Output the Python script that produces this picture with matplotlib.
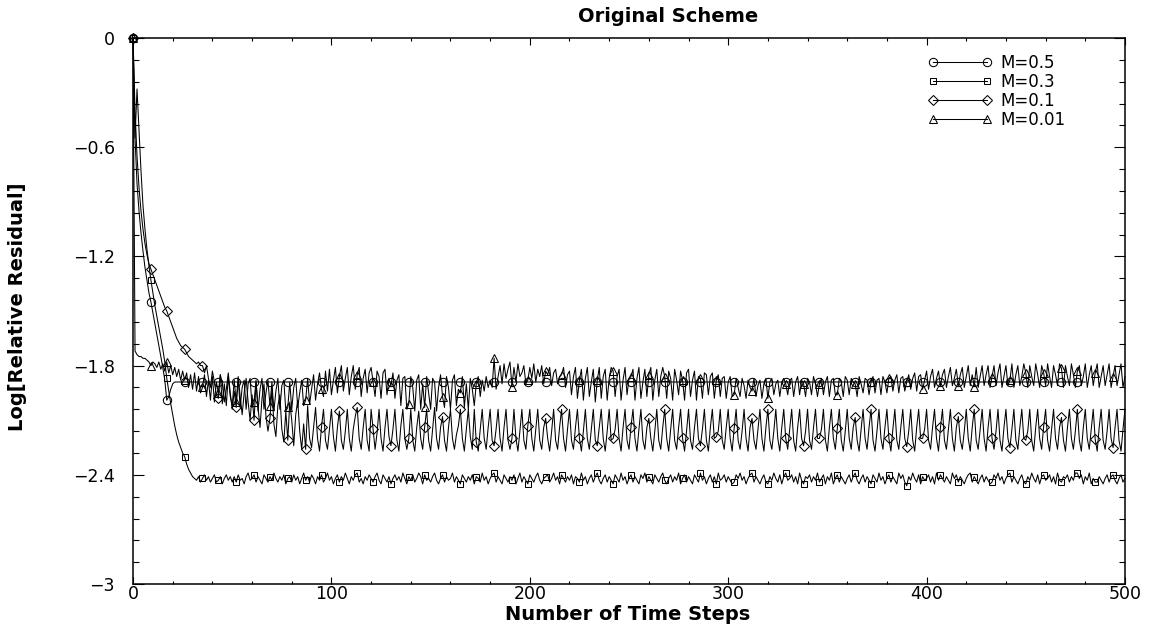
import numpy as np
import matplotlib
matplotlib.use("Agg")
import matplotlib.pyplot as plt
from matplotlib.lines import Line2D
from matplotlib.ticker import MultipleLocator

# ── Data: log10 relative residual per time step (step 0..500) ────────────────
m05 = [
    0.00, -0.55, -0.80, -0.95, -1.07, -1.17, -1.26, -1.33, -1.40, -1.45,
    -1.51, -1.57, -1.63, -1.69, -1.75, -1.81, -1.88, -1.99, -1.97, -1.93,
    -1.90,
    -1.89, -1.89, -1.89, -1.89, -1.89, -1.89, -1.89, -1.89, -1.89, -1.89, -1.89, -1.89, -1.89, -1.89, -1.89, -1.89, -1.89, -1.89, -1.89, -1.89,
    -1.89, -1.89, -1.89, -1.89, -1.89, -1.89, -1.89, -1.89, -1.89, -1.89, -1.89, -1.89, -1.89, -1.89, -1.89, -1.89, -1.89, -1.89, -1.89, -1.89,
    -1.89, -1.89, -1.89, -1.89, -1.89, -1.89, -1.89, -1.89, -1.89, -1.89, -1.89, -1.89, -1.89, -1.89, -1.89, -1.89, -1.89, -1.89, -1.89, -1.89,
    -1.89, -1.89, -1.89, -1.89, -1.89, -1.89, -1.89, -1.89, -1.89, -1.89, -1.89, -1.89, -1.89, -1.89, -1.89, -1.89, -1.89, -1.89, -1.89, -1.89,
    -1.89, -1.89, -1.89, -1.89, -1.89, -1.89, -1.89, -1.89, -1.89, -1.89, -1.89, -1.89, -1.89, -1.89, -1.89, -1.89, -1.89, -1.89, -1.89, -1.89,
    -1.89, -1.89, -1.89, -1.89, -1.89, -1.89, -1.89, -1.89, -1.89, -1.89, -1.89, -1.89, -1.89, -1.89, -1.89, -1.89, -1.89, -1.89, -1.89, -1.89,
    -1.89, -1.89, -1.89, -1.89, -1.89, -1.89, -1.89, -1.89, -1.89, -1.89, -1.89, -1.89, -1.89, -1.89, -1.89, -1.89, -1.89, -1.89, -1.89, -1.89,
    -1.89, -1.89, -1.89, -1.89, -1.89, -1.89, -1.89, -1.89, -1.89, -1.89, -1.89, -1.89, -1.89, -1.89, -1.89, -1.89, -1.89, -1.89, -1.89, -1.89,
    -1.89, -1.89, -1.89, -1.89, -1.89, -1.89, -1.89, -1.89, -1.89, -1.89, -1.89, -1.89, -1.89, -1.89, -1.89, -1.89, -1.89, -1.89, -1.89, -1.89,
    -1.89, -1.89, -1.89, -1.89, -1.89, -1.89, -1.89, -1.89, -1.89, -1.89, -1.89, -1.89, -1.89, -1.89, -1.89, -1.89, -1.89, -1.89, -1.89, -1.89,
    -1.89, -1.89, -1.89, -1.89, -1.89, -1.89, -1.89, -1.89, -1.89, -1.89, -1.89, -1.89, -1.89, -1.89, -1.89, -1.89, -1.89, -1.89, -1.89, -1.89,
    -1.89, -1.89, -1.89, -1.89, -1.89, -1.89, -1.89, -1.89, -1.89, -1.89, -1.89, -1.89, -1.89, -1.89, -1.89, -1.89, -1.89, -1.89, -1.89, -1.89,
    -1.89, -1.89, -1.89, -1.89, -1.89, -1.89, -1.89, -1.89, -1.89, -1.89, -1.89, -1.89, -1.89, -1.89, -1.89, -1.89, -1.89, -1.89, -1.89, -1.89,
    -1.89, -1.89, -1.89, -1.89, -1.89, -1.89, -1.89, -1.89, -1.89, -1.89, -1.89, -1.89, -1.89, -1.89, -1.89, -1.89, -1.89, -1.89, -1.89, -1.89,
    -1.89, -1.89, -1.89, -1.89, -1.89, -1.89, -1.89, -1.89, -1.89, -1.89, -1.89, -1.89, -1.89, -1.89, -1.89, -1.89, -1.89, -1.89, -1.89, -1.89,
    -1.89, -1.89, -1.89, -1.89, -1.89, -1.89, -1.89, -1.89, -1.89, -1.89, -1.89, -1.89, -1.89, -1.89, -1.89, -1.89, -1.89, -1.89, -1.89, -1.89,
    -1.89, -1.89, -1.89, -1.89, -1.89, -1.89, -1.89, -1.89, -1.89, -1.89, -1.89, -1.89, -1.89, -1.89, -1.89, -1.89, -1.89, -1.89, -1.89, -1.89,
    -1.89, -1.89, -1.89, -1.89, -1.89, -1.89, -1.89, -1.89, -1.89, -1.89, -1.89, -1.89, -1.89, -1.89, -1.89, -1.89, -1.89, -1.89, -1.89, -1.89,
    -1.89, -1.89, -1.89, -1.89, -1.89, -1.89, -1.89, -1.89, -1.89, -1.89, -1.89, -1.89, -1.89, -1.89, -1.89, -1.89, -1.89, -1.89, -1.89, -1.89,
    -1.89, -1.89, -1.89, -1.89, -1.89, -1.89, -1.89, -1.89, -1.89, -1.89, -1.89, -1.89, -1.89, -1.89, -1.89, -1.89, -1.89, -1.89, -1.89, -1.89,
    -1.89, -1.89, -1.89, -1.89, -1.89, -1.89, -1.89, -1.89, -1.89, -1.89, -1.89, -1.89, -1.89, -1.89, -1.89, -1.89, -1.89, -1.89, -1.89, -1.89,
    -1.89, -1.89, -1.89, -1.89, -1.89, -1.89, -1.89, -1.89, -1.89, -1.89, -1.89, -1.89, -1.89, -1.89, -1.89, -1.89, -1.89, -1.89, -1.89, -1.89,
    -1.89, -1.89, -1.89, -1.89, -1.89, -1.89, -1.89, -1.89, -1.89, -1.89, -1.89, -1.89, -1.89, -1.89, -1.89, -1.89, -1.89, -1.89, -1.89, -1.89,
]

m03 = [
    0.00, -0.55, -0.28, -0.50, -0.73, -0.92, -1.05, -1.16, -1.25, -1.33,
    -1.40, -1.47, -1.53, -1.59, -1.65, -1.71, -1.78, -1.87, -1.94, -2.01,
    -2.07, -2.13, -2.18, -2.22, -2.25, -2.28, -2.30, -2.34, -2.37, -2.39,
    -2.41, -2.42, -2.43, -2.41, -2.44, -2.42, -2.40, -2.43, -2.41, -2.44,
    -2.42, -2.40, -2.44, -2.43, -2.41, -2.45, -2.42, -2.40, -2.43, -2.41,
    -2.44, -2.41, -2.44, -2.40, -2.43, -2.42, -2.45, -2.41, -2.39, -2.43,
    -2.42, -2.40, -2.44, -2.41, -2.43, -2.45, -2.40, -2.42, -2.44, -2.41,
    -2.43, -2.39, -2.42, -2.44, -2.41, -2.43, -2.40, -2.45, -2.42, -2.41,
    -2.44, -2.40, -2.43, -2.41, -2.45, -2.42, -2.39, -2.43, -2.41, -2.44,
    -2.40, -2.42, -2.45, -2.41, -2.43, -2.40, -2.44, -2.42, -2.39, -2.43,
    -2.41, -2.45, -2.42, -2.40, -2.44, -2.41, -2.43, -2.39, -2.42, -2.45,
    -2.41, -2.43, -2.40, -2.39, -2.44, -2.42, -2.45, -2.41, -2.43, -2.40,
    -2.42, -2.44, -2.41, -2.39, -2.43, -2.45, -2.40, -2.42, -2.44, -2.41,
    -2.45, -2.42, -2.40, -2.43, -2.41, -2.44, -2.39, -2.42, -2.45, -2.41,
    -2.43, -2.40, -2.44, -2.42, -2.39, -2.41, -2.45, -2.40, -2.43, -2.42,
    -2.44, -2.41, -2.39, -2.43, -2.45, -2.42, -2.40, -2.44, -2.41, -2.43,
    -2.42, -2.39, -2.44, -2.41, -2.43, -2.45, -2.40, -2.42, -2.44, -2.41,
    -2.43, -2.40, -2.45, -2.41, -2.42, -2.44, -2.39, -2.43, -2.41, -2.45,
    -2.42, -2.40, -2.39, -2.44, -2.41, -2.43, -2.45, -2.40, -2.42, -2.44,
    -2.41, -2.43, -2.40, -2.45, -2.42, -2.39, -2.44, -2.41, -2.43, -2.45,
    -2.40, -2.42, -2.44, -2.41, -2.39, -2.43, -2.45, -2.42, -2.41, -2.40,
    -2.44, -2.42, -2.39, -2.43, -2.41, -2.45, -2.40, -2.42, -2.44, -2.41,
    -2.43, -2.40, -2.45, -2.41, -2.42, -2.44, -2.39, -2.43, -2.41, -2.45,
    -2.42, -2.40, -2.44, -2.41, -2.39, -2.43, -2.45, -2.42, -2.40, -2.44,
    -2.41, -2.43, -2.45, -2.40, -2.42, -2.44, -2.39, -2.43, -2.41, -2.45,
    -2.42, -2.40, -2.44, -2.41, -2.43, -2.45, -2.40, -2.42, -2.39, -2.44,
    -2.41, -2.43, -2.45, -2.40, -2.42, -2.44, -2.41, -2.39, -2.43, -2.45,
    -2.42, -2.40, -2.44, -2.41, -2.43, -2.39, -2.45, -2.42, -2.40, -2.44,
    -2.41, -2.43, -2.45, -2.40, -2.42, -2.44, -2.39, -2.43, -2.41, -2.45,
    -2.42, -2.40, -2.44, -2.41, -2.45, -2.39, -2.43, -2.42, -2.40, -2.44,
    -2.41, -2.43, -2.45, -2.44, -2.40, -2.42, -2.39, -2.43, -2.41, -2.45,
    -2.42, -2.40, -2.39, -2.44, -2.41, -2.43, -2.45, -2.42, -2.40, -2.44,
    -2.45, -2.41, -2.43, -2.39, -2.42, -2.44, -2.40, -2.45, -2.41, -2.39,
    -2.43, -2.42, -2.40, -2.44, -2.41, -2.45, -2.39, -2.43, -2.45, -2.41,
    -2.42, -2.40, -2.44, -2.41, -2.43, -2.39, -2.44, -2.42, -2.40, -2.45,
    -2.41, -2.43, -2.39, -2.45, -2.42, -2.40, -2.44, -2.41, -2.43, -2.45,
    -2.42, -2.40, -2.44, -2.41, -2.39, -2.43, -2.45, -2.42, -2.40, -2.44,
    -2.41, -2.43, -2.45, -2.40, -2.42, -2.44, -2.39, -2.43, -2.41, -2.45,
    -2.42, -2.40, -2.44, -2.41, -2.43, -2.45, -2.39, -2.42, -2.40, -2.44,
    -2.46, -2.41, -2.43, -2.39, -2.42, -2.44, -2.40, -2.45, -2.41, -2.43,
    -2.42, -2.40, -2.44, -2.41, -2.45, -2.39, -2.43, -2.40, -2.42, -2.44,
    -2.41, -2.43, -2.45, -2.39, -2.42, -2.40, -2.44, -2.41, -2.43, -2.45,
    -2.42, -2.40, -2.39, -2.44, -2.41, -2.43, -2.45, -2.42, -2.40, -2.44,
    -2.41, -2.43, -2.45, -2.44, -2.40, -2.42, -2.39, -2.43, -2.41, -2.45,
    -2.42, -2.40, -2.39, -2.44, -2.41, -2.43, -2.45, -2.42, -2.40, -2.44,
    -2.45, -2.41, -2.43, -2.39, -2.42, -2.44, -2.40, -2.45, -2.41, -2.40,
    -2.43, -2.42, -2.40, -2.44, -2.41, -2.45, -2.39, -2.43, -2.44, -2.41,
    -2.42, -2.40, -2.44, -2.41, -2.43, -2.39, -2.39, -2.42, -2.40, -2.45,
    -2.41, -2.43, -2.39, -2.45, -2.42, -2.44, -2.44, -2.41, -2.43, -2.45,
    -2.42, -2.40, -2.44, -2.41, -2.40, -2.43, -2.45, -2.42, -2.40, -2.44,
    -2.42,
]

m01 = [
    0.00, -0.40, -0.65, -0.82, -0.95, -1.05, -1.13, -1.19, -1.24, -1.27,
    -1.30, -1.33, -1.36, -1.39, -1.42, -1.45, -1.48, -1.50, -1.53, -1.56,
    -1.59, -1.62, -1.65, -1.67, -1.69, -1.70, -1.71, -1.73, -1.75, -1.76,
    -1.77, -1.78, -1.79, -1.78, -1.80, -1.80, -1.84, -1.80, -1.87, -1.92,
    -1.83, -1.89, -1.96, -1.98, -1.85, -1.90, -2.00, -1.93, -1.84, -1.95,
    -2.04, -1.94, -2.03, -1.86, -1.97, -2.07, -1.95, -1.87, -2.00, -2.10,
    -1.96, -2.10, -1.89, -2.03, -2.14, -1.98, -1.90, -2.08, -2.16, -2.09,
    -1.93, -2.12, -2.19, -2.02, -1.96, -2.15, -2.22, -2.05, -2.21, -2.00,
    -2.10, -2.24, -2.07, -1.99, -2.16, -2.26, -2.12, -2.26, -2.02, -2.20,
    -2.25, -2.14, -2.03, -2.20, -2.27, -2.135, -2.04, -2.21, -2.26, -2.15,
    -2.04, -2.19, -2.27, -2.14, -2.05, -2.21, -2.26, -2.16, -2.04, -2.20,
    -2.27, -2.15, -2.08, -2.03, -2.20, -2.26, -2.14, -2.04, -2.21, -2.27,
    -2.04, -2.15, -2.26, -2.17, -2.04, -2.20, -2.27, -2.14, -2.04, -2.19,
    -2.24, -2.15, -2.04, -2.21, -2.27, -2.13, -2.04, -2.20, -2.26, -2.20,
    -2.04, -2.21, -2.27, -2.14, -2.05, -2.20, -2.26, -2.135, -2.04, -2.21,
    -2.27, -2.15, -2.03, -2.20, -2.26, -2.14, -2.08, -2.21, -2.27, -2.14,
    -2.04, -2.20, -2.26, -2.18, -2.13, -2.04, -2.20, -2.27, -2.15, -2.04,
    -2.19, -2.26, -2.04, -2.22, -2.27, -2.15, -2.04, -2.20, -2.26, -2.14,
    -2.04, -2.21, -2.24, -2.15, -2.04, -2.20, -2.27, -2.14, -2.04, -2.21,
    -2.26, -2.20, -2.04, -2.20, -2.27, -2.16, -2.04, -2.21, -2.26, -2.13,
    -2.04, -2.20, -2.27, -2.15, -2.04, -2.21, -2.26, -2.14, -2.09, -2.20,
    -2.27, -2.16, -2.04, -2.21, -2.26, -2.14, -2.04, -2.20, -2.27, -2.15,
    -2.04, -2.21, -2.26, -2.14, -2.04, -2.20, -2.27, -2.16, -2.04, -2.20,
    -2.26, -2.15, -2.04, -2.21, -2.24, -2.14, -2.04, -2.20, -2.27, -2.16,
    -2.04, -2.21, -2.20, -2.15, -2.04, -2.20, -2.27, -2.14, -2.04, -2.21,
    -2.26, -2.135, -2.04, -2.20, -2.27, -2.15, -2.04, -2.21, -2.26, -2.14,
    -2.09, -2.20, -2.27, -2.16, -2.04, -2.21, -2.26, -2.14, -2.04, -2.20,
    -2.27, -2.15, -2.04, -2.21, -2.26, -2.14, -2.04, -2.20, -2.27, -2.16,
    -2.04, -2.21, -2.26, -2.14, -2.04, -2.20, -2.24, -2.15, -2.04, -2.21,
    -2.27, -2.14, -2.04, -2.20, -2.19, -2.16, -2.04, -2.21, -2.26, -2.14,
    -2.04, -2.20, -2.27, -2.145, -2.04, -2.21, -2.26, -2.16, -2.04, -2.20,
    -2.27, -2.14, -2.09, -2.21, -2.26, -2.15, -2.04, -2.20, -2.27, -2.14,
    -2.04, -2.21, -2.26, -2.16, -2.04, -2.20, -2.27, -2.14, -2.04, -2.20,
    -2.26, -2.15, -2.04, -2.21, -2.27, -2.14, -2.04, -2.20, -2.24, -2.16,
    -2.04, -2.21, -2.26, -2.14, -2.04, -2.20, -2.20, -2.15, -2.04, -2.21,
    -2.27, -2.14, -2.04, -2.20, -2.26, -2.145, -2.04, -2.21, -2.27, -2.16,
    -2.04, -2.20, -2.26, -2.14, -2.085, -2.21, -2.27, -2.15, -2.04, -2.20,
    -2.26, -2.14, -2.04, -2.21, -2.27, -2.16, -2.04, -2.20, -2.26, -2.14,
    -2.04, -2.20, -2.27, -2.15, -2.04, -2.21, -2.26, -2.14, -2.04, -2.20,
    -2.245, -2.16, -2.04, -2.21, -2.27, -2.14, -2.04, -2.20, -2.20, -2.15,
    -2.04, -2.21, -2.26, -2.14, -2.04, -2.20, -2.27, -2.14, -2.04, -2.21,
    -2.26, -2.15, -2.04, -2.20, -2.27, -2.14, -2.08, -2.21, -2.26, -2.16,
    -2.04, -2.20, -2.27, -2.14, -2.04, -2.21, -2.26, -2.15, -2.04, -2.20,
    -2.27, -2.14, -2.04, -2.20, -2.26, -2.16, -2.04, -2.21, -2.27, -2.14,
    -2.04, -2.20, -2.25, -2.15, -2.04, -2.21, -2.26, -2.14, -2.04, -2.20,
    -2.21, -2.16, -2.04, -2.21, -2.27, -2.14, -2.04, -2.20, -2.26, -2.135,
    -2.04, -2.21, -2.27, -2.15, -2.04, -2.20, -2.26, -2.14, -2.085, -2.21,
    -2.27, -2.14, -2.04, -2.20, -2.26, -2.16, -2.04, -2.21, -2.27, -2.14,
    -2.04, -2.20, -2.26, -2.15, -2.04, -2.205, -2.27, -2.14, -2.04, -2.21,
    -2.26, -2.16, -2.04, -2.20, -2.25, -2.14, -2.04, -2.21, -2.27, -2.15,
    -2.04,
]

m001 = [
    0.00, -1.72, -1.74, -1.75, -1.75, -1.76, -1.76, -1.77, -1.78, -1.80,
    -1.78, -1.79, -1.81, -1.78, -1.82, -1.79, -1.83, -1.78, -1.84, -1.80,
    -1.85, -1.81, -1.86, -1.82, -1.88, -1.83, -1.88, -1.84, -1.92, -1.85,
    -1.93, -1.84, -1.94, -1.86, -1.95, -1.92, -1.85, -1.97, -1.88, -1.99,
    -1.86, -2.00, -1.89, -1.95, -1.85, -2.01, -1.90, -2.02, -1.86, -1.97,
    -2.02, -1.88, -2.00, -1.87, -2.03, -1.92, -1.88, -2.04, -1.90, -1.87,
    -2.03, -2.00, -1.88, -2.05, -1.93, -1.87, -2.04, -1.95, -1.88, -2.02,
    -1.89, -2.05, -1.94, -1.87, -2.04, -1.91, -1.88, -2.05, -2.03, -1.89,
    -2.04, -1.92, -1.87, -2.03, -1.95, -1.88, -2.02, -1.99, -1.87, -2.01,
    -1.93, -1.85, -1.99, -1.90, -1.84, -1.93, -1.97, -1.83, -1.94, -1.82,
    -1.96, -1.88, -1.81, -1.95, -1.86, -1.80, -1.94, -1.87, -1.81, -1.96,
    -1.86, -1.80, -1.93, -1.85, -1.81, -1.97, -1.87, -1.82, -1.95, -1.84,
    -1.81, -1.89, -1.97, -1.83, -1.86, -1.98, -1.84, -1.82, -1.96, -1.87,
    -1.91, -1.84, -1.98, -1.88, -1.85, -2.02, -1.87, -1.86, -2.04, -2.01,
    -1.86, -1.92, -2.05, -1.88, -1.85, -2.04, -1.90, -2.03, -1.86, -1.95,
    -2.04, -1.87, -1.89, -2.05, -1.92, -1.85, -1.97, -2.03, -1.86, -1.92,
    -2.04, -1.88, -1.85, -2.02, -1.93, -1.95, -1.86, -2.03, -1.90, -2.04,
    -1.87, -1.93, -2.02, -1.90, -1.86, -1.97, -1.88, -1.94, -1.86, -1.92,
    -1.88, -1.92, -1.76, -1.93, -1.86, -1.80, -1.90, -1.79, -1.87, -1.82,
    -1.78, -1.915, -1.81, -1.89, -1.79, -1.86, -1.84, -1.80, -1.90, -1.88,
    -1.81, -1.87, -1.79, -1.89, -1.82, -1.86, -1.80, -1.90, -1.83, -1.85,
    -1.81, -1.91, -1.84, -1.82, -1.90, -1.86, -1.85, -1.81, -1.92, -1.85,
    -1.83, -1.96, -1.86, -1.81, -1.98, -1.88, -1.82, -1.99, -1.87, -1.81,
    -1.97, -1.89, -1.82, -2.00, -1.88, -1.81, -1.98, -1.86, -1.82, -1.99,
    -1.87, -1.81, -1.83, -1.97, -1.86, -1.82, -1.99, -1.88, -1.81, -1.96,
    -1.87, -1.86, -1.82, -1.99, -1.87, -1.81, -1.98, -1.89, -1.82, -1.97,
    -1.85, -1.81, -1.99, -1.88, -1.82, -1.97, -1.86, -1.81, -1.86, -1.98,
    -1.83, -1.87, -1.99, -1.82, -1.88, -1.96, -1.83, -1.88, -1.99, -1.84,
    -1.82, -1.97, -1.88, -1.83, -1.99, -1.86, -1.87, -1.98, -1.84, -1.85,
    -1.96, -1.86, -1.84, -1.98, -1.88, -1.85, -1.97, -1.87, -1.86, -1.98,
    -1.89, -1.86, -1.97, -1.96, -1.87, -1.92, -1.97, -1.87, -1.91, -1.98,
    -1.88, -1.92, -1.94, -1.87, -1.97, -1.91, -1.88, -1.98, -1.90, -1.87,
    -1.98, -1.89, -1.87, -1.96, -1.90, -1.88, -1.97, -1.89, -1.87, -1.90,
    -1.96, -1.88, -1.87, -1.97, -1.89, -1.86, -1.96, -1.88, -1.90, -1.97,
    -1.87, -1.89, -1.96, -1.86, -1.90, -1.97, -1.90, -1.87, -1.96, -1.89,
    -1.86, -1.97, -1.88, -1.87, -1.96, -1.96, -1.87, -1.89, -1.97, -1.86,
    -1.88, -1.96, -1.87, -1.89, -1.90, -1.97, -1.86, -1.90, -1.95, -1.87,
    -1.88, -1.96, -1.89, -1.86, -1.95, -1.88, -1.87, -1.96, -1.86, -1.89,
    -1.95, -1.87, -1.86, -1.94, -1.88, -1.85, -1.95, -1.87, -1.86, -1.94,
    -1.89, -1.85, -1.93, -1.87, -1.84, -1.94, -1.86, -1.85, -1.93, -1.88,
    -1.83, -1.93, -1.86, -1.82, -1.92, -1.87, -1.83, -1.91, -1.85, -1.82,
    -1.92, -1.86, -1.81, -1.91, -1.87, -1.82, -1.91, -1.85, -1.81, -1.92,
    -1.86, -1.80, -1.91, -1.85, -1.915, -1.81, -1.92, -1.86, -1.80, -1.91,
    -1.85, -1.80, -1.92, -1.86, -1.80, -1.91, -1.84, -1.79, -1.92, -1.86,
    -1.80, -1.91, -1.88, -1.79, -1.92, -1.85, -1.80, -1.91, -1.86, -1.79,
    -1.84, -1.92, -1.80, -1.86, -1.91, -1.79, -1.85, -1.92, -1.80, -1.84,
    -1.91, -1.79, -1.86, -1.92, -1.80, -1.85, -1.91, -1.79, -1.815, -1.92,
    -1.80, -1.86, -1.91, -1.79, -1.85, -1.92, -1.83, -1.80, -1.91, -1.86,
    -1.79, -1.92, -1.85, -1.80, -1.91, -1.84, -1.79, -1.92, -1.86, -1.80,
    -1.91, -1.85, -1.79, -1.92, -1.86, -1.80, -1.91, -1.85, -1.79, -1.92,
    -1.86,
]

labels = ["M=0.5", "M=0.3", "M=0.1", "M=0.01"]
series = [m05, m03, m01, m001]

xticks = [0, 100, 200, 300, 400, 500]
xticklabels = ["0", "100", "200", "300", "400", "500"]
yticks = [0, -0.6, -1.2, -1.8, -2.4, -3.0]
yticklabels = ["0", "\u22120.6", "\u22121.2", "\u22121.8", "\u22122.4", "\u22123"]

# ── Styling ──────────────────────────────────────────────────────────────────
MARKERS = ["o", "s", "D", "^"]
MSIZES = [6, 5, 5.2, 5.6]
MARK_SPACING = 8.6595   # symbols every ~8.66 steps, as in the original plot
LW = 0.75

fig = plt.figure(figsize=(11.6, 6.29), dpi=100)
ax = fig.add_axes([0.1147, 0.0715, 0.8551, 0.8681])

handles = []
for y, mk, ms in zip(series, MARKERS, MSIZES):
    y = np.asarray(y, dtype=float)
    x = np.arange(len(y))
    idx = np.round(np.arange(0, len(y), MARK_SPACING)).astype(int)
    idx = idx[idx < len(y)]
    ax.plot(x, y, color="black", lw=LW, marker=mk, ms=ms, mfc="none",
            mec="black", mew=0.75, markevery=list(idx), clip_on=False)
    handles.append(Line2D([], [], color="black", lw=LW, marker=mk, ms=ms,
                          mfc="none", mec="black", mew=0.75))

ax.set_xlim(0, 500)
ax.set_ylim(-3, 0)
ax.set_xticks(xticks)
ax.set_xticklabels(xticklabels)
ax.set_yticks(yticks)
ax.set_yticklabels(yticklabels)
ax.xaxis.set_minor_locator(MultipleLocator(20))
ax.yaxis.set_minor_locator(MultipleLocator(0.12))

ax.tick_params(axis="both", which="both", direction="in", top=True,
               right=True, width=0.8, labelsize=12.5)
ax.tick_params(axis="x", which="major", length=5, pad=0.5)
ax.tick_params(axis="x", which="minor", length=2.5)
ax.tick_params(axis="y", which="major", length=8, pad=13)
ax.tick_params(axis="y", which="minor", length=4)
for sp in ax.spines.values():
    sp.set_linewidth(1.1)

ax.legend(handles, labels, loc="upper left", bbox_to_anchor=(0.80, 0.914),
          bbox_transform=fig.transFigure, frameon=False, numpoints=2,
          fontsize=12, handlelength=3.84, handletextpad=0.48,
          labelspacing=0.05, borderpad=0, borderaxespad=0)

fig.text(668 / 1160, 1 - 17 / 629, "Original Scheme", ha="center",
         va="center", fontsize=14, fontweight="bold")
fig.text(628 / 1160, 1 - 614 / 629, "Number of Time Steps", ha="center",
         va="center", fontsize=14, fontweight="bold")
fig.text(18 / 1160, 1 - 307 / 629, "Log[Relative Residual]", ha="center",
         va="center", rotation=90, fontsize=14, fontweight="bold")

fig.savefig("out.png", dpi=100)
